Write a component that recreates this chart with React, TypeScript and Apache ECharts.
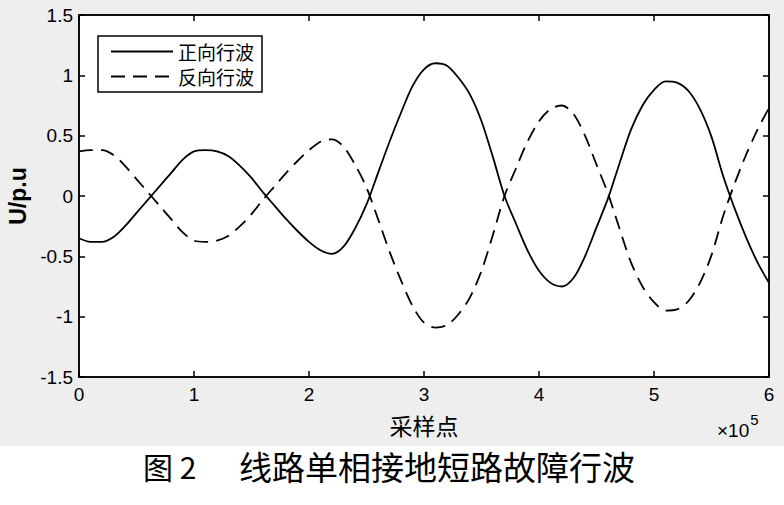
import React, { useEffect, useRef } from "react";
import * as echarts from "echarts";

const xValues = [
  0.0, 0.1, 0.2, 0.3, 0.4, 0.5, 0.6, 0.7, 0.8, 0.9,
  1.0, 1.1, 1.2, 1.3, 1.4, 1.5, 1.6, 1.7, 1.8, 1.9,
  2.0, 2.1, 2.2, 2.3, 2.4, 2.5, 2.6, 2.7, 2.8, 2.9,
  3.0, 3.1, 3.2, 3.3, 3.4, 3.5, 3.6, 3.7, 3.8, 3.9,
  4.0, 4.1, 4.2, 4.3, 4.4, 4.5, 4.6, 4.7, 4.8, 4.9,
  5.0, 5.1, 5.2, 5.3, 5.4, 5.5, 5.6, 5.7, 5.8, 5.9,
  6.0,
];

const forwardWave = [
  -0.35, -0.38, -0.38, -0.34, -0.25, -0.14, -0.03, 0.08, 0.19, 0.3,
  0.37, 0.38, 0.37, 0.33, 0.25, 0.15, 0.03, -0.08, -0.19, -0.29,
  -0.38, -0.45, -0.48, -0.42, -0.27, -0.07, 0.19, 0.45, 0.69, 0.91,
  1.05, 1.1, 1.08, 0.98, 0.84, 0.62, 0.32, 0.0, -0.23, -0.45,
  -0.62, -0.72, -0.75, -0.68, -0.5, -0.26, -0.02, 0.27, 0.55, 0.75,
  0.88, 0.95, 0.94, 0.87, 0.72, 0.49, 0.17, -0.1, -0.34, -0.55,
  -0.72,
];

const backwardWave = [
  0.37, 0.38, 0.38, 0.34, 0.25, 0.14, 0.03, -0.08, -0.19, -0.3,
  -0.37, -0.38, -0.37, -0.33, -0.25, -0.15, -0.03, 0.08, 0.19, 0.29,
  0.38, 0.45, 0.47, 0.41, 0.26, 0.07, -0.19, -0.46, -0.7, -0.91,
  -1.05, -1.09, -1.07, -0.98, -0.84, -0.62, -0.32, 0.0, 0.23, 0.45,
  0.62, 0.72, 0.75, 0.68, 0.5, 0.26, 0.02, -0.27, -0.55, -0.75,
  -0.88, -0.95, -0.94, -0.87, -0.72, -0.49, -0.17, 0.1, 0.34, 0.55,
  0.73,
];

const seriesNames = ["正向行波", "反向行波"];
const yAxisName = "U/p.u";
const xAxisName = "采样点";
const captionLabel = "图 2";
const captionText = "线路单相接地短路故障行波";

export default function App() {
  const ref = useRef<HTMLDivElement>(null);

  useEffect(() => {
    if (!ref.current) return;
    const chart = echarts.init(ref.current, null, { renderer: "svg" });
    const tickFont = {
      fontFamily: "Liberation Sans, Arial, sans-serif",
      fontSize: 19,
      color: "#000",
    };
    const axisLine = { show: true, onZero: false, lineStyle: { color: "#000", width: 1.5 } };
    const axisTick = { inside: true, length: 6, lineStyle: { color: "#000", width: 1.5 } };
    const pair = (vals: number[]) => xValues.map((x, i) => [x, vals[i]]);
    chart.setOption({
      animation: false,
      backgroundColor: "transparent",
      grid: {
        left: 79,
        right: 15,
        top: 15,
        bottom: 128,
        show: true,
        backgroundColor: "#fff",
        borderColor: "#000",
        borderWidth: 1.5,
      },
      legend: {
        orient: "vertical",
        left: 98,
        top: 36,
        padding: [6, 8, 6, 12],
        itemGap: 6,
        itemWidth: 62,
        itemHeight: 14,
        borderColor: "#000",
        borderWidth: 1.5,
        backgroundColor: "#fff",
        itemStyle: { opacity: 0 },
        textStyle: {
          fontFamily: "Noto Sans CJK SC",
          fontSize: 19,
          color: "#000",
        },
        data: seriesNames,
      },
      xAxis: [
        {
          type: "value",
          min: 0,
          max: 6,
          interval: 1,
          position: "bottom",
          axisLine,
          axisTick,
          axisLabel: { ...tickFont, margin: 8 },
          splitLine: { show: false },
        },
        {
          type: "value",
          min: 0,
          max: 6,
          interval: 1,
          position: "top",
          axisLine,
          axisTick,
          axisLabel: { show: false },
          splitLine: { show: false },
        },
      ],
      yAxis: [
        {
          type: "value",
          min: -1.5,
          max: 1.5,
          interval: 0.5,
          position: "left",
          axisLine,
          axisTick,
          axisLabel: { ...tickFont, margin: 6 },
          splitLine: { show: false },
        },
        {
          type: "value",
          min: -1.5,
          max: 1.5,
          interval: 0.5,
          position: "right",
          axisLine,
          axisTick,
          axisLabel: { show: false },
          splitLine: { show: false },
        },
      ],
      series: [
        {
          name: seriesNames[0],
          type: "line",
          xAxisIndex: 0,
          yAxisIndex: 0,
          data: pair(forwardWave),
          smooth: 0.3,
          symbol: "none",
          lineStyle: { color: "#000", width: 1.8, type: "solid" },
          itemStyle: { color: "#000" },
        },
        {
          name: seriesNames[1],
          type: "line",
          xAxisIndex: 0,
          yAxisIndex: 0,
          data: pair(backwardWave),
          smooth: 0.3,
          symbol: "none",
          lineStyle: { color: "#000", width: 1.8, type: [14, 8] },
          itemStyle: { color: "#000" },
        },
      ],
      graphic: [
        {
          type: "text",
          x: 18,
          y: 196,
          rotation: Math.PI / 2,
          style: {
            text: yAxisName,
            fontFamily: "Liberation Sans, Arial, sans-serif",
            fontWeight: "bold",
            fontSize: 23,
            fill: "#000",
            align: "center",
            verticalAlign: "middle",
          },
        },
        {
          type: "text",
          x: 424,
          y: 425,
          style: {
            text: xAxisName,
            fontFamily: "Noto Sans CJK SC",
            fontSize: 23,
            fill: "#000",
            align: "center",
            verticalAlign: "middle",
          },
        },
        {
          type: "text",
          x: 717,
          y: 412,
          style: {
            text: "{a|×10}{b|5}",
            rich: {
              a: {
                fontFamily: "Liberation Sans, Arial, sans-serif",
                fontSize: 19,
                fill: "#000",
                verticalAlign: "bottom",
                padding: [9, 0, 0, 0],
              },
              b: {
                fontFamily: "Liberation Sans, Arial, sans-serif",
                fontSize: 15,
                fill: "#000",
                verticalAlign: "top",
                padding: [0, 0, 9, 1],
              },
            },
          },
        },
        {
          type: "text",
          x: 143,
          y: 466,
          style: {
            text: captionLabel,
            fontFamily: "Noto Sans CJK SC",
            fontSize: 30,
            fill: "#000",
            align: "left",
            verticalAlign: "middle",
          },
        },
        {
          type: "text",
          x: 437,
          y: 466,
          style: {
            text: captionText,
            fontFamily: "Noto Sans CJK SC",
            fontSize: 33,
            fill: "#000",
            align: "center",
            verticalAlign: "middle",
          },
        },
      ],
    });
    return () => chart.dispose();
  }, []);

  return (
    <div
      style={{
        position: "fixed",
        left: 0,
        top: 0,
        width: 784,
        height: 505,
        background: "linear-gradient(#eeeeee 0px, #eeeeee 446px, #ffffff 446px)",
      }}
    >
      <div ref={ref} style={{ width: 784, height: 505 }} />
    </div>
  );
}
